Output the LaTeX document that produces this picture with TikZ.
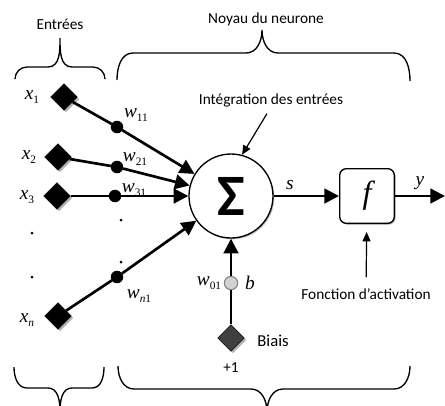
\documentclass[tikz,border=0pt]{standalone}
\usepackage{fontspec}
\setmainfont{Carlito}
\newfontfamily\tnr{Liberation Serif}
\usetikzlibrary{shapes.geometric,arrows.meta,shadows}
\newcommand\nvar[2]{{\tnr\itshape #1}\raisebox{-0.45ex}{\tnr\fontsize{8.5}{9}\selectfont #2}}

\begin{document}
\begin{tikzpicture}[x=0.75pt,y=-0.75pt,
  input/.style={draw,shape=diamond,fill=black,minimum size=20pt,inner sep=0pt,
    drop shadow={shadow xshift=1.5pt,shadow yshift=-1.5pt,fill=gray!60,opacity=1}},
  weight/.style={draw,shape=circle,fill=black,minimum size=9pt,inner sep=0pt},
  lbl/.style={font=\fontsize{14.5}{16}\selectfont,inner sep=1pt},
  txt/.style={font=\fontsize{11.5}{13}\selectfont},
  sig/.style={line width=2pt,-{Triangle[length=11pt,width=11pt]}},
  note/.style={line width=0.9pt,-{Triangle[length=7pt,width=6pt]}},
  brace/.style={line width=1pt}]
  \useasboundingbox (0,0) rectangle (445,405);
  % braces
  \draw[brace] (15,79) to[out=90,in=180] (27,67) -- (48,67) to[out=0,in=-90] (60,38)
    to[out=-90,in=180] (72,67) -- (93,67) to[out=0,in=90] (105,79);
  \draw[brace] (117,80) to[out=90,in=180] (133,53) -- (246,53) to[out=0,in=-90] (262,30)
    to[out=-90,in=180] (278,53) -- (394,53) to[out=0,in=90] (410,81);
  \draw[brace] (14,367) to[out=-90,in=180] (27,388) -- (48,388) to[out=0,in=90] (60,412)
    to[out=90,in=180] (72,388) -- (92,388) to[out=0,in=-90] (104,367);
  \draw[brace] (118,366) to[out=-90,in=180] (134,389) -- (251,389) to[out=0,in=90] (267,412)
    to[out=90,in=180] (283,389) -- (394,389) to[out=0,in=-90] (410,366);
  \node[txt] (entrees) at (60,24) {Entrées};
  \node[txt] (noyau) at (266,19) {Noyau du neurone};
  % inputs
  \node[input] (x1) at (64,97) {};
  \node[input] (x2) at (58,157) {};
  \node[input] (x3) at (57,196) {};
  \node[input] (xn) at (58,316) {};
  \node[lbl] (lx1) at (32,97) {\nvar{x}{1}};
  \node[lbl] (lx2) at (29,157) {\nvar{x}{2}};
  \node[lbl] (lx3) at (27,197) {\nvar{x}{3}};
  \node[lbl] (lxn) at (27,320) {\nvar{x}{\textit{n}}};
  % weights
  \node[weight] (w11) at (117,127) {};
  \node[weight] (w21) at (117,167) {};
  \node[weight] (w31) at (115,196) {};
  \node[weight] (wn1) at (117,277) {};
  \node[lbl] (lw11) at (136,115) {\nvar{w}{11}};
  \node[lbl] (lw21) at (135,159) {\nvar{w}{21}};
  \node[lbl] (lw31) at (134,190) {\nvar{w}{31}};
  \node[lbl] (lwn1) at (139,296) {\nvar{w}{\textit{n}1}};
  \fill (32,233) circle (1.5);
  \fill (32,277) circle (1.5);
  \fill (121,220) circle (1.5);
  \fill (121,262) circle (1.5);
  % neuron
  \node[draw,shape=circle,fill=white,minimum size=63pt,inner sep=0pt,line width=1pt,
    font=\fontsize{44}{44}\selectfont\bfseries,
    drop shadow={shadow xshift=1pt,shadow yshift=-1pt,fill=gray!50,opacity=1}] (sum) at (231,196) {Σ};
  \node[draw,fill=white,rounded corners=5pt,minimum size=41pt,inner sep=0pt,line width=1pt,
    font=\fontsize{24}{24}\selectfont\tnr\itshape,
    drop shadow={shadow xshift=1pt,shadow yshift=-1pt,fill=gray!50,opacity=1}] (f) at (367,196) {f};
  \coordinate (out) at (445,196);
  % bias
  \node[draw=gray,shape=circle,fill=gray!35,minimum size=10pt,inner sep=0pt,line width=0.8pt] (b) at (231,283) {};
  \node[input,fill=black!75] (bias) at (231,338) {};
  \node[lbl] (lw01) at (209,283) {\nvar{w}{01}};
  \node[lbl] (lb) at (250,283) {\tnr\itshape b};
  \node[font=\fontsize{12.5}{14}\selectfont] (lbias) at (273,341) {Biais};
  \node[txt] (one) at (231,368) {+1};
  % connections
  \draw[line width=2pt] (x1) -- (w11);
  \draw[sig] (w11) -- (sum);
  \draw[line width=2pt] (x2) -- (w21);
  \draw[sig] (w21) -- (sum);
  \draw[line width=2pt] (x3) -- (w31);
  \draw[sig] (w31) -- (sum);
  \draw[line width=2pt] (xn) -- (wn1);
  \draw[sig] (wn1) -- (sum);
  \draw[line width=2pt] (bias) -- (b);
  \draw[sig] (b) -- (sum);
  \draw[sig] (sum) -- (f) node[lbl,pos=0.25,above=3pt] {\tnr\itshape s};
  \draw[sig] (f) -- (out) node[lbl,midway,above=3pt] {\tnr\itshape y};
  % notes
  \node[txt] (integ) at (271,100) {Intégration des entrées};
  \draw[note,shorten <=2pt] ([xshift=-2pt]integ.south) -- (sum.75);
  \node[txt] (activ) at (366,294) {Fonction d'activation};
  \draw[note,shorten <=5pt,shorten >=6pt] (activ) -- (f);
\end{tikzpicture}
\end{document}
